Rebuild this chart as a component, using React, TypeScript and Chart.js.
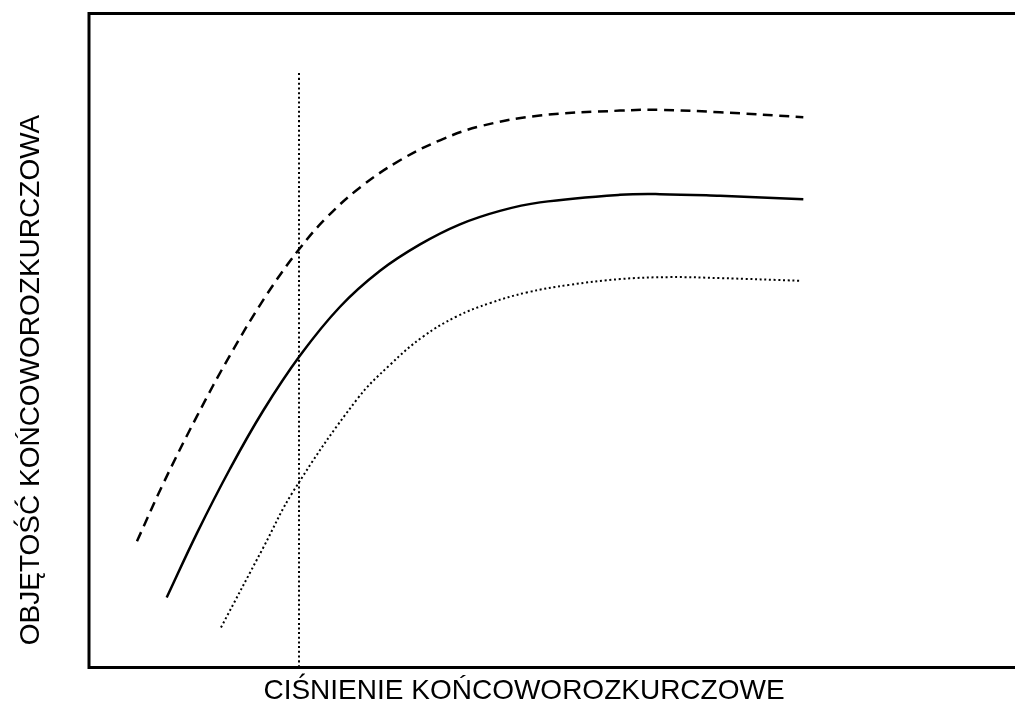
import React, { useEffect, useRef } from "react";
import { Chart, registerables } from "chart.js";

Chart.register(...registerables);

const xTitle = "CIŚNIENIE KOŃCOWOROZKURCZOWE";
const yTitle = "OBJĘTOŚĆ KOŃCOWOROZKURCZOWA";

// normalized units 0..100
const solidX = [8.39, 11.66, 15.23, 18.79, 22.79, 27.11, 31.43, 35.75, 40.06, 44.38, 48.7, 57.34, 61.66, 68.14, 77.14];
const solidY = [10.7, 20.55, 30.39, 39.22, 47.7, 55.16, 60.66, 64.69, 67.76, 69.82, 71.12, 72.27, 72.38, 72.12, 71.61];

const dashedX = [5.18, 7.99, 11.66, 15.23, 19.22, 22.79, 25.7, 29.27, 33.59, 37.9, 42.22, 48.7, 57.34, 61.66, 68.14, 77.14];
const dashedY = [19.3, 28.04, 38.43, 47.75, 57.07, 64.13, 68.86, 73.4, 77.56, 80.61, 82.75, 84.4, 85.15, 85.26, 84.9, 84.14];

const dottedX = [14.25, 18.82, 22.06, 28.91, 32.51, 36.1, 39.71, 43.3, 47.27, 51.94, 57.34, 62.74, 68.14, 76.96];
const dottedY = [6.11, 18.33, 26.94, 40.95, 46.29, 50.62, 53.67, 55.72, 57.34, 58.52, 59.39, 59.69, 59.54, 59.13];

const markerX = [22.68, 22.68];
const markerY = [90.9, 0];

const pts = (xs: number[], ys: number[]) => xs.map((x, i) => ({ x, y: ys[i] }));

const framePlugin = {
  id: "frame",
  afterDraw(chart: any) {
    const { ctx, chartArea } = chart;
    ctx.save();
    ctx.strokeStyle = "#000";
    ctx.lineWidth = 3;
    ctx.beginPath();
    ctx.moveTo(chart.width + 2, chartArea.top);
    ctx.lineTo(chartArea.left, chartArea.top);
    ctx.lineTo(chartArea.left, chartArea.bottom);
    ctx.lineTo(chart.width + 2, chartArea.bottom);
    ctx.stroke();

    ctx.fillStyle = "#000";
    ctx.font = "28px 'Liberation Sans', Arial, sans-serif";
    ctx.textAlign = "center";
    ctx.textBaseline = "middle";
    ctx.fillText(xTitle, 524, 691);
    ctx.translate(31, 380);
    ctx.rotate(-Math.PI / 2);
    ctx.fillText(yTitle, 0, 0);
    ctx.restore();
  },
};

export default function App() {
  const ref = useRef<HTMLCanvasElement>(null);
  useEffect(() => {
    if (!ref.current) return;
    const common = { pointRadius: 0, borderColor: "#000", fill: false, tension: 0.4 };
    const chart = new Chart(ref.current, {
      type: "line",
      data: {
        datasets: [
          { ...common, data: pts(solidX, solidY), borderWidth: 2.5 },
          { ...common, data: pts(dashedX, dashedY), borderWidth: 2.5, borderDash: [10, 6.5] },
          { ...common, data: pts(dottedX, dottedY), borderWidth: 2, borderDash: [2, 2.7] },
          { ...common, data: pts(markerX, markerY), borderWidth: 2, borderDash: [2, 2.7] },
        ],
      },
      options: {
        animation: false,
        responsive: false,
        layout: { padding: { left: 89, top: 13.5, bottom: 38.5, right: 0 } },
        plugins: { legend: { display: false }, tooltip: { enabled: false } },
        scales: {
          x: { type: "linear", min: 0, max: 100, display: false },
          y: { type: "linear", min: 0, max: 100, display: false },
        },
      },
      plugins: [framePlugin],
    });
    return () => chart.destroy();
  }, []);
  return (
    <div style={{ position: "fixed", left: 0, top: 0, width: 1015, height: 706, background: "#fff" }}>
      <canvas ref={ref} width={1015} height={706} />
    </div>
  );
}
